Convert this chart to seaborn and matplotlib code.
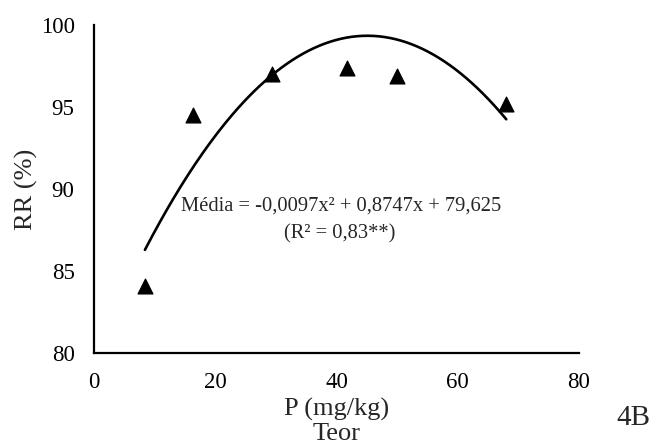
import numpy as np
import pandas as pd
import matplotlib
matplotlib.use("Agg")
import matplotlib.pyplot as plt
import seaborn as sns

# Observed means
teor_p = [8.4, 16.4, 29.3, 41.8, 50.0, 68.0]
rr_pct = [84.1, 94.5, 97.0, 97.4, 96.9, 95.2]

# Quadratic fit: a*x^2 + b*x + c
coef = [-0.0097, 0.8747, 79.625]
fit_range = [8.4, 68.0]

x_ticks = [0, 20, 40, 60, 80]
y_ticks = [80, 85, 90, 95, 100]

sns.set_style("white")
plt.rcParams["font.family"] = ["Liberation Serif", "DejaVu Serif"]

fig = plt.figure(figsize=(6.51, 4.45), dpi=100)
ax = fig.add_axes([94 / 651, 1 - 353 / 445, (579 - 94) / 651, (353 - 25) / 445])

xs = np.linspace(fit_range[0], fit_range[1], 200)
curve = pd.DataFrame({"x": xs, "y": np.polyval(coef, xs)})
sns.lineplot(data=curve, x="x", y="y", ax=ax, color="black", lw=1.9)

pts = pd.DataFrame({"x": teor_p, "y": rr_pct})
sns.scatterplot(data=pts, x="x", y="y", ax=ax, marker="^", s=115,
                color="black", edgecolor="black", zorder=3)

ax.set_xlim(0, 80)
ax.set_ylim(80, 100)
ax.set_xticks(x_ticks)
ax.set_yticks(y_ticks)
ax.tick_params(length=0, labelsize=16.5, colors="black", pad=14)
for side in ["top", "right"]:
    ax.spines[side].set_visible(False)
for side in ["left", "bottom"]:
    ax.spines[side].set_color("black")
    ax.spines[side].set_linewidth(1.6)

ax.set_xlabel("P (mg/kg)\nTeor", fontsize=19, linespacing=1.12, labelpad=3)
ax.set_ylabel("RR (%)", fontsize=19, labelpad=2)

ax.text(40.8, 88.66, "Média = -0,0097x² + 0,8747x + 79,625",
        ha="center", va="baseline", fontsize=14.8)
ax.text(40.5, 87.0, "(R² = 0,83**)",
        ha="center", va="baseline", fontsize=14.8)

fig.text(633 / 651, 1 - 418 / 445, "4B", ha="center", va="center", fontsize=21)

fig.savefig("out.png", dpi=100)
